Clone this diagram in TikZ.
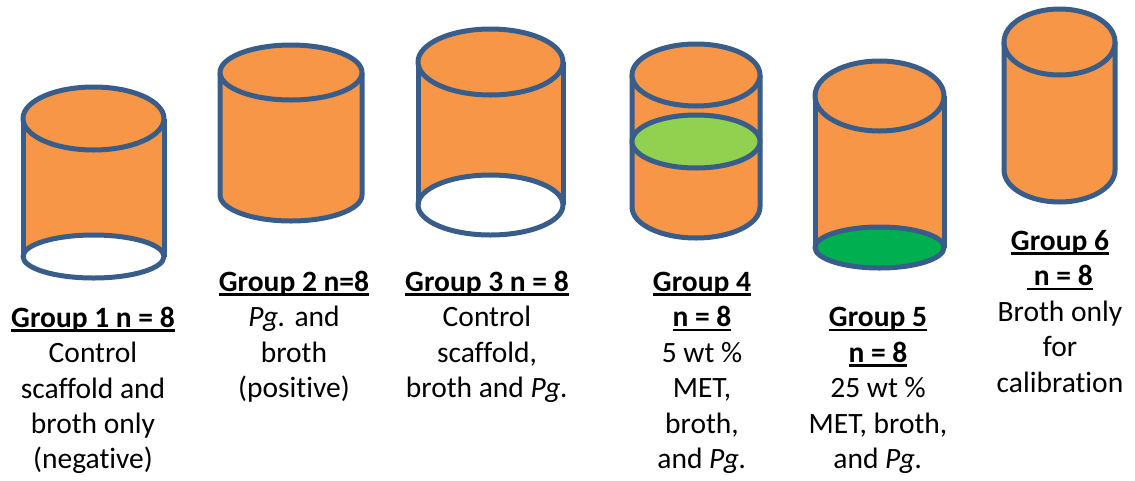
\documentclass[tikz,border=0pt]{standalone}
\usepackage{fontspec}
\setmainfont[Ligatures=NoCommon]{Carlito}

\definecolor{bodyorange}{HTML}{F79646}
\definecolor{rimblue}{HTML}{385D8A}
\definecolor{lightgreen}{HTML}{92D050}
\definecolor{deepgreen}{HTML}{00B050}

% underline drawn through the descenders, as a word processor does
\newcommand\ulbox[1]{\setbox0\hbox{#1}\rlap{\rule[-4.6pt]{\wd0}{2.6pt}}\box0}

% cylinder with a closed, rounded bottom
% #1 centre x, #2 x radius, #3 top centre y, #4 top y radius, #5 bottom centre y, #6 bottom y radius
\newcommand\closedcyl[6]{%
  \filldraw[rim, fill=bodyorange] (#1-#2,#3) -- (#1-#2,#5)
    arc[start angle=180, end angle=360, x radius=#2pt, y radius=#6pt] -- (#1+#2,#3);
  \filldraw[rim, fill=bodyorange] (#1,#3) ellipse[x radius=#2pt, y radius=#4pt];
}

% cylinder whose whole bottom face is visible, filled with #7
\newcommand\opencyl[7]{%
  \fill[bodyorange] (#1-#2,#3) rectangle (#1+#2,#5);
  \filldraw[rim, fill=#7] (#1,#5) ellipse[x radius=#2pt, y radius=#6pt];
  \draw[rim] (#1-#2,#3) -- (#1-#2,#5) (#1+#2,#3) -- (#1+#2,#5);
  \filldraw[rim, fill=bodyorange] (#1,#3) ellipse[x radius=#2pt, y radius=#4pt];
}

\begin{document}
\begin{tikzpicture}[x=1pt, y=-1pt,
  rim/.style={draw=rimblue, line width=5pt, line join=round},
  txt/.style={font=\fontsize{29.5}{35}\selectfont, inner sep=0pt, anchor=base},
  head/.style={txt, font=\fontsize{29.5}{35}\selectfont\bfseries}]
\useasboundingbox (0,0) rectangle (1135,480);

% the six samples
\opencyl{93.5}{70.5}{118.5}{31.5}{256.5}{21.5}{white}
\closedcyl{291}{71}{72.5}{27.5}{195}{26}
\opencyl{490.5}{72.5}{62}{33}{205}{30}{white}
\closedcyl{696}{64}{75}{31}{207}{31}
\filldraw[rim, fill=lightgreen] (696,141.5) ellipse[x radius=64pt, y radius=26.5pt];
\opencyl{879.5}{64.5}{96}{35}{247.5}{20.5}{deepgreen}
\closedcyl{1059.5}{55.5}{42}{33}{170}{32}

% Group 1
\node[head] (g1h) at (93,327)   {\ulbox{Group 1 n = 8}};
\node[txt]  (g1a) at (93,362.5) {Control};
\node[txt]  (g1b) at (93,398)   {scaffold and};
\node[txt]  (g1c) at (93,433.5) {broth only};
\node[txt]  (g1d) at (93,468.5) {(negative)};

% Group 2
\node[head] (g2h) at (294,291)   {\ulbox{Group 2 n=8}};
\node[txt]  (g2a) at (294,326.5) {\textit{Pg.} and};
\node[txt]  (g2b) at (294,362)   {broth};
\node[txt]  (g2c) at (294,397.5) {(positive)};

% Group 3
\node[head] (g3h) at (487,291)   {\ulbox{Group 3 n = 8}};
\node[txt]  (g3a) at (487,326.5) {Control};
\node[txt]  (g3b) at (487,362)   {scaffold,};
\node[txt]  (g3c) at (487,397.5) {broth and \textit{Pg.}};

% Group 4
\node[head] (g4h) at (702,291)   {\ulbox{Group 4}};
\node[head] (g4n) at (702,326.5) {\ulbox{n = 8}};
\node[txt]  (g4a) at (702,362)   {5 wt \%};
\node[txt]  (g4b) at (702,397.5) {MET,};
\node[txt]  (g4c) at (702,433)   {broth,};
\node[txt]  (g4d) at (702,468.5) {and \textit{Pg.}};

% Group 5
\node[head] (g5h) at (878,326.5) {\ulbox{Group 5}};
\node[head] (g5n) at (878,362)   {\ulbox{n = 8}};
\node[txt]  (g5a) at (878,397.5) {25 wt \%};
\node[txt]  (g5b) at (878,433)   {MET, broth,};
\node[txt]  (g5c) at (878,468.5) {and \textit{Pg.}};

% Group 6
\node[head] (g6h) at (1060,250)   {\ulbox{Group 6}};
\node[head] (g6n) at (1060,285.5) {\ulbox{\ n = 8}};
\node[txt]  (g6a) at (1060,321)   {Broth only};
\node[txt]  (g6b) at (1060,356.5) {for};
\node[txt]  (g6c) at (1060,392)   {calibration};
\end{tikzpicture}
\end{document}
